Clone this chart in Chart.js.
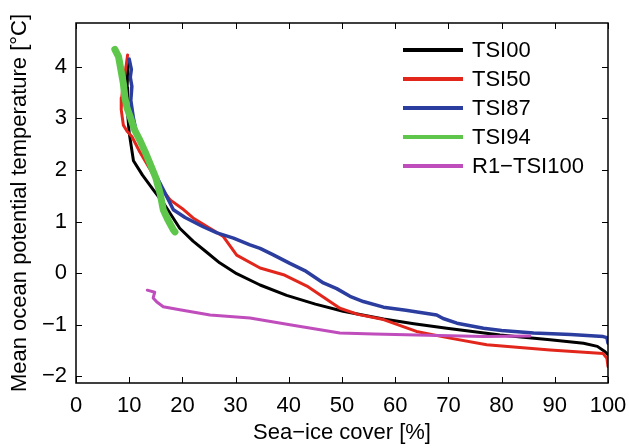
<!DOCTYPE html>
<html>
<head>
<meta charset="utf-8">
<script src="https://cdn.jsdelivr.net/npm/chart.js@4/dist/chart.umd.min.js"></script>
<style>
  html, body { margin: 0; padding: 0; background: #fff; }
  #wrap { width: 629px; height: 448px; }
</style>
</head>
<body>
<div id="wrap"><canvas id="chart" width="629" height="448"></canvas></div>
<script>
// series labels and colours
const seriesLabels = ["TSI00", "TSI50", "TSI87", "TSI94", "R1\u2212TSI100"];
const seriesColors = ["#000000", "#e2261c", "#2b3d9e", "#5ec64a", "#c04dbc"];

// TSI00
const tsi00X = [9.8, 9.6, 9.7, 10.0, 10.8, 12.5, 14.5, 16.5, 18.5, 19.5, 22, 24.4, 27, 30.2, 34.6, 39.6, 45, 50.2, 57.8, 63.5, 69.7, 79.7, 89.1, 95.4, 98, 99.4, 100];
const tsi00Y = [4.1, 3.6, 3.1, 2.72, 2.18, 1.9, 1.62, 1.35, 1.03, 0.87, 0.62, 0.42, 0.2, -0.01, -0.23, -0.43, -0.6, -0.74, -0.89, -0.98, -1.07, -1.2, -1.29, -1.36, -1.42, -1.52, -1.58];

// TSI50
const tsi50X = [9.7, 9.4, 8.9, 8.6, 8.5, 8.9, 9.6, 10.5, 12, 14, 16, 17.7, 20, 22, 25, 27.7, 30.2, 34.6, 39, 43.4, 49.6, 53, 57.8, 64, 70.3, 77.2, 89.1, 99.1, 99.8, 100];
const tsi50Y = [4.23, 4.0, 3.7, 3.4, 3.17, 2.87, 2.75, 2.65, 2.35, 2.0, 1.65, 1.42, 1.25, 1.07, 0.88, 0.71, 0.35, 0.1, -0.03, -0.25, -0.68, -0.8, -0.9, -1.13, -1.26, -1.39, -1.49, -1.56, -1.65, -1.81];

// TSI87
const tsi87X = [10.0, 10.4, 10.2, 10.5, 10.3, 10.8, 11.5, 13, 15, 16.5, 18.3, 20.5, 23.9, 26.5, 29.6, 32.7, 34.6, 37, 40.2, 43, 46.5, 49, 51.5, 54, 57.8, 62, 67.8, 69, 71.6, 76.6, 80, 86, 93, 99.1, 99.8, 100];
const tsi87Y = [4.15, 3.95, 3.8, 3.62, 3.35, 3.0, 2.65, 2.3, 1.9, 1.6, 1.23, 1.08, 0.9, 0.78, 0.68, 0.55, 0.48, 0.36, 0.19, 0.05, -0.19, -0.3, -0.45, -0.55, -0.66, -0.72, -0.81, -0.88, -0.97, -1.07, -1.11, -1.16, -1.19, -1.23, -1.25, -1.36];

// TSI94
const tsi94X = [7.3, 8.0, 8.9, 9.2, 9.6, 10.2, 11, 12, 13, 13.9, 15, 15.8, 16.4, 17.2, 18.3, 18.6];
const tsi94Y = [4.34, 4.2, 3.68, 3.4, 3.2, 3.03, 2.78, 2.58, 2.35, 2.13, 1.85, 1.55, 1.23, 1.05, 0.84, 0.8];

// R1-TSI100
const r1X = [13.4, 14.8, 14.5, 15.2, 16.4, 19.5, 25.2, 32.7, 40.2, 49.6, 56, 64, 76.6, 85.3];
const r1Y = [-0.33, -0.37, -0.48, -0.56, -0.65, -0.71, -0.81, -0.87, -1.0, -1.16, -1.18, -1.2, -1.23, -1.22];

const xTicks = [0, 10, 20, 30, 40, 50, 60, 70, 80, 90, 100];
const yTicks = [-2, -1, 0, 1, 2, 3, 4];

function pts(xs, ys) {
    return xs.map((x, i) => ({ x: x, y: ys[i] }));
}

const allX = [tsi00X, tsi50X, tsi87X, tsi94X, r1X];
const allY = [tsi00Y, tsi50Y, tsi87Y, tsi94Y, r1Y];
const widths = [3, 3, 3.5, 7, 3];
const orders = [4, 3, 2, 0, 1];

const datasets = seriesLabels.map((label, i) => ({
    label: label,
    data: pts(allX[i], allY[i]),
    borderColor: seriesColors[i],
    backgroundColor: seriesColors[i],
    borderWidth: widths[i],
    showLine: true,
    pointRadius: 0,
    tension: 0,
    order: orders[i],
    borderJoinStyle: "round",
    borderCapStyle: "round"
}));

const FONT = "'Liberation Sans', Arial, sans-serif";
const FSIZE = 22;

// box around plot area with inward ticks on all sides
const boxPlugin = {
    id: "box",
    afterDraw(chart) {
        const ctx = chart.ctx;
        const a = chart.chartArea;
        const xs = chart.scales.x, ys = chart.scales.y;
        const len = 6;
        ctx.save();
        ctx.strokeStyle = "#000";
        ctx.lineWidth = 1.5;
        ctx.strokeRect(a.left, a.top, a.right - a.left, a.bottom - a.top);
        ctx.lineWidth = 1;
        ctx.beginPath();
        xTicks.forEach(v => {
            const p = Math.round(xs.getPixelForValue(v)) + 0.5;
            ctx.moveTo(p, a.bottom); ctx.lineTo(p, a.bottom - len);
            ctx.moveTo(p, a.top); ctx.lineTo(p, a.top + len);
        });
        yTicks.forEach(v => {
            const p = Math.round(ys.getPixelForValue(v)) + 0.5;
            ctx.moveTo(a.left, p); ctx.lineTo(a.left + len, p);
            ctx.moveTo(a.right, p); ctx.lineTo(a.right - len, p);
        });
        ctx.stroke();
        ctx.restore();
    }
};

// legend inside the plot, top right
const legendPlugin = {
    id: "innerLegend",
    afterDraw(chart) {
        const ctx = chart.ctx;
        const a = chart.chartArea;
        ctx.save();
        ctx.font = FSIZE + "px " + FONT;
        ctx.textBaseline = "middle";
        ctx.textAlign = "left";
        seriesLabels.forEach((label, i) => {
            const y = a.top + 27 + i * 29;
            ctx.strokeStyle = seriesColors[i];
            ctx.lineWidth = 4;
            ctx.beginPath();
            ctx.moveTo(a.right - 205, y);
            ctx.lineTo(a.right - 145, y);
            ctx.stroke();
            ctx.fillStyle = "#000";
            ctx.fillText(label, a.right - 136, y + 1);
        });
        ctx.restore();
    }
};

new Chart(document.getElementById("chart").getContext("2d"), {
    type: "scatter",
    data: { datasets: datasets },
    options: {
        responsive: false,
        animation: false,
        layout: { padding: { top: 23, right: 21, left: 0, bottom: 0 } },
        plugins: {
            legend: { display: false },
            tooltip: { enabled: false }
        },
        scales: {
            x: {
                type: "linear",
                min: 0,
                max: 100,
                afterFit(scale) {
                    scale.height = 65;
                    scale.paddingLeft = 0;
                    scale.paddingRight = 0;
                },
                afterBuildTicks(scale) { scale.ticks = xTicks.map(v => ({ value: v })); },
                grid: { display: false, drawTicks: false },
                border: { display: false },
                ticks: {
                    color: "#000",
                    padding: 10,
                    maxRotation: 0,
                    font: { family: FONT, size: FSIZE }
                },
                title: {
                    display: true,
                    text: "Sea\u2212ice cover [%]",
                    color: "#000",
                    font: { family: FONT, size: FSIZE },
                    padding: { top: 0, bottom: 2 }
                }
            },
            y: {
                type: "linear",
                min: -2.13,
                max: 4.85,
                afterFit(scale) {
                    scale.width = 76;
                    scale.paddingTop = 0;
                    scale.paddingBottom = 0;
                },
                afterBuildTicks(scale) { scale.ticks = yTicks.map(v => ({ value: v })); },
                grid: { display: false, drawTicks: false },
                border: { display: false },
                ticks: {
                    color: "#000",
                    padding: 9,
                    font: { family: FONT, size: FSIZE },
                    callback: v => String(v).replace("-", "\u2212")
                },
                title: {
                    display: true,
                    text: "Mean ocean potential temperature [\u00b0C]",
                    color: "#000",
                    font: { family: FONT, size: FSIZE },
                    padding: { top: 7, bottom: 0 }
                }
            }
        }
    },
    plugins: [boxPlugin, legendPlugin]
});
</script>
</body>
</html>
